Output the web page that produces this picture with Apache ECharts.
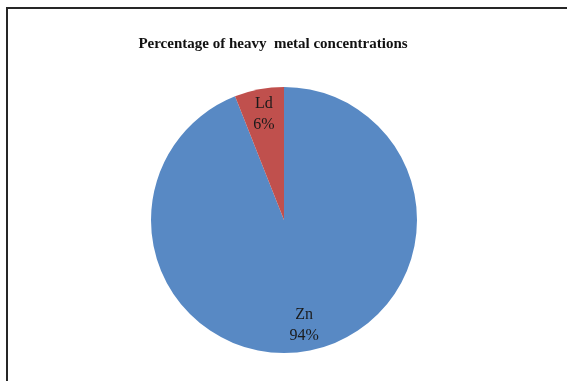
<!DOCTYPE html>
<html>
<head>
<meta charset="utf-8">
<script src="https://cdn.jsdelivr.net/npm/echarts@6/dist/echarts.min.js"></script>
<style>
  html, body { margin: 0; padding: 0; background: #fff; }
  #chart { width: 567px; height: 381px; }
</style>
</head>
<body>
<div id="chart"></div>
<script>
// Heavy metal shares (percent)
const metals = ['Zn', 'Ld'];
const shares = [94, 6];
const colors = ['#5889c4', '#c0504d'];

const pieData = metals.map((name, i) => ({
  name: name,
  value: shares[i],
  itemStyle: { color: colors[i] }
}));

const chart = echarts.init(document.getElementById('chart'), null, { renderer: 'canvas' });

const serif = '"Liberation Serif", "Times New Roman", serif';
const center = [284, 220];

chart.setOption({
  backgroundColor: '#ffffff',
  animation: false,
  title: {
    text: 'Percentage of heavy  metal concentrations',
    left: 268,
    top: 32,
    textAlign: 'center',
    textStyle: { fontFamily: serif, fontSize: 15, fontWeight: 'bold', color: '#111' }
  },
  graphic: [{
    type: 'rect',
    shape: { x: 7, y: 8, width: 620, height: 420 },
    style: { fill: 'none', stroke: '#262626', lineWidth: 2 },
    silent: true
  }],
  series: [
    {
      // the filled pie
      type: 'pie',
      center: center,
      radius: [0, 133],
      startAngle: 90,
      clockwise: true,
      silent: true,
      label: { show: false },
      labelLine: { show: false },
      data: pieData
    },
    {
      // outer ring carrying the category / percent labels near the rim
      type: 'pie',
      center: center,
      radius: [76, 133],
      startAngle: 90,
      clockwise: true,
      silent: true,
      itemStyle: { color: 'rgba(0,0,0,0)' },
      label: {
        show: true,
        position: 'inside',
        formatter: p => p.name + '\n' + Math.round(p.percent) + '%',
        fontFamily: serif,
        fontSize: 16,
        lineHeight: 21,
        color: '#1a1a1a'
      },
      labelLine: { show: false },
      data: metals.map((name, i) => ({ name: name, value: shares[i] }))
    }
  ]
});
</script>
</body>
</html>
